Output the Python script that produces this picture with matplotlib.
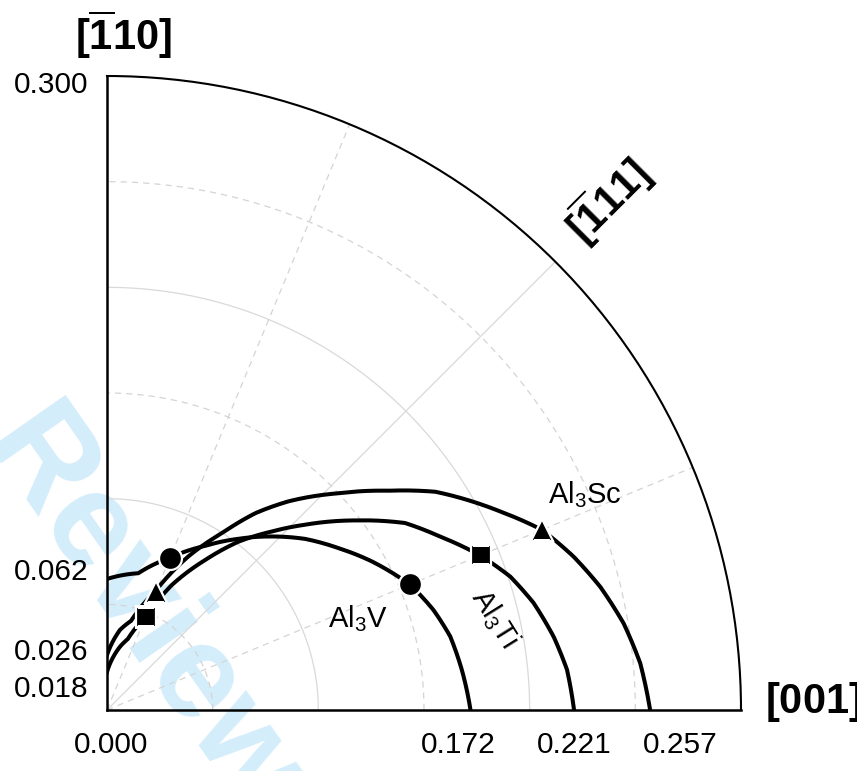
import matplotlib.pyplot as plt
import numpy as np
from matplotlib import transforms

plt.rcParams['font.family'] = ['Liberation Sans', 'DejaVu Sans']
plt.rcParams['mathtext.fontset'] = 'custom'
plt.rcParams['mathtext.rm'] = 'Liberation Sans'
plt.rcParams['mathtext.it'] = 'Liberation Sans:italic'
plt.rcParams['mathtext.bf'] = 'Liberation Sans:bold'

# curves: angle from [001] in degrees, radius
th_v = [90, 77.1, 67.7, 59.1, 52.5, 46.5, 40.8, 35.0, 29.3, 22.4, 17.0, 12.1, 6.4, 0]
r_v = [0.062, 0.0664, 0.0777, 0.0905, 0.1021, 0.1132, 0.1239, 0.1336, 0.1437, 0.1553,
       0.1616, 0.1661, 0.1690, 0.172]

th_ti = [90, 78.4, 73.7, 67.5, 62.6, 56.8, 52.0, 47.3, 43.1, 37.4, 32.1, 27.5, 22.4,
         18.3, 14.1, 9.3, 5.0, 0]
r_ti = [0.018, 0.0306, 0.0350, 0.0478, 0.0666, 0.0848, 0.1011, 0.1149, 0.1283, 0.1477,
        0.1665, 0.1777, 0.1914, 0.2010, 0.2081, 0.2142, 0.2185, 0.221]

th_sc = [90, 80.8, 74.9, 67.9, 62.1, 57.0, 53.0, 49.0, 43.1, 37.9, 33.6, 26.8,
         22.5, 18.2, 14.0, 9.5, 5.0, 0]
r_sc = [0.026, 0.0384, 0.0437, 0.0605, 0.0822, 0.0997, 0.1166, 0.1308, 0.1501, 0.1689,
        0.1866, 0.2084, 0.2228, 0.2324, 0.2406, 0.2479, 0.2533, 0.257]

# markers at the two marked directions
mark_th = [22.5, 67.5]
mark_v = [0.1553, 0.0777]
mark_ti = [0.1914, 0.0478]
mark_sc = [0.2228, 0.0605]

left_ticks = [0.300, 0.062, 0.026, 0.018]
bottom_ticks = [0.000, 0.172, 0.221, 0.257]

fig = plt.figure(figsize=(8.57, 7.71), dpi=100)
ax = fig.add_axes([107/857, 61/771, 634/857, 634/771], projection='polar')
ax.set_thetamin(0)
ax.set_thetamax(90)
ax.set_rlim(0, 0.3)
ax.set_xticks([])
ax.set_yticks([])
ax.grid(False)
ax.patch.set_alpha(0)
for s in ['start', 'end']:
    ax.spines[s].set_linewidth(1.8)
ax.spines['polar'].set_linewidth(1.5)
ax.spines['inner'].set_visible(False)

# grid
arc = np.radians(np.linspace(0, 90, 200))
for rr in [0.1, 0.2]:
    ax.plot(arc, np.full_like(arc, rr), color='#d9d9d9', lw=0.9, zorder=1)
for rr in [0.05, 0.15, 0.25]:
    ax.plot(arc, np.full_like(arc, rr), color='#d4d4d4', lw=0.9, ls=(0, (5, 4)), zorder=1)
ax.plot([np.radians(45)]*2, [0, 0.3], color='#d9d9d9', lw=0.9, zorder=1)
for a in [22.5, 67.5]:
    ax.plot([np.radians(a)]*2, [0, 0.3], color='#d4d4d4', lw=0.9, ls=(0, (5, 4)), zorder=1)

# curves (drawn along theta between the read points, like polar grid lines)
for th, r in [(th_v, r_v), (th_ti, r_ti), (th_sc, r_sc)]:
    ln, = ax.plot(np.radians(th), r, color='black', lw=2.9, zorder=3)
    ln.get_path()._interpolation_steps = 30

mt = np.radians(mark_th)
ax.plot(mt, mark_v, 'o', ms=16.5, color='black', mec='white', mew=1.6, zorder=4, ls='none')
ax.plot(mt, mark_ti, 's', ms=14, color='black', mec='white', mew=1.6, zorder=4, ls='none')
ax.plot(mt, mark_sc, '^', ms=16, color='black', mec='white', mew=1.6, zorder=4, ls='none')

# tick labels
left_dy = [-17, -1, -5, -25]
for r, dy in zip(left_ticks, left_dy):
    tr = transforms.offset_copy(ax.transData, fig=fig, x=-19, y=dy, units='dots')
    ax.text(np.pi/2, r, f'{r:.3f}', transform=tr, ha='right', va='baseline', fontsize=21.5)
bottom_dx = [4, -12, 0, 30]
for r, dx in zip(bottom_ticks, bottom_dx):
    tr = transforms.offset_copy(ax.transData, fig=fig, x=dx, y=-43, units='dots')
    ax.text(0, r, f'{r:.3f}', transform=tr, ha='center', va='baseline', fontsize=21.5)

# direction labels
fig.text(123/857, 1 - 50/771, r'$\mathbf{[\overline{1}10]}$', ha='center', va='baseline', fontsize=30)
fig.text(765/857, 1 - 713/771, r'$\mathbf{[001]}$', ha='left', va='baseline', fontsize=30)
fig.text(608/857, 1 - 200/771, r'$\mathbf{[\overline{1}11]}$', ha='center', va='center',
         fontsize=30, rotation=45, rotation_mode='anchor')

# phase labels
fig.text(328/857, 1 - 627/771, 'Al$_3$V', ha='left', va='baseline', fontsize=21)
fig.text(548/857, 1 - 503/771, 'Al$_3$Sc', ha='left', va='baseline', fontsize=21)
fig.text(495/857, 1 - 618/771, 'Al$_3$Ti', ha='center', va='center', fontsize=21,
         rotation=-58, rotation_mode='anchor')

# watermark
fig.text(140/857, 1 - 615/771, 'Review', ha='center', va='center', fontsize=96,
         fontweight='bold', color='#d4edfb', rotation=-55, rotation_mode='anchor', zorder=-5)

fig.savefig('out.png', dpi=100)
